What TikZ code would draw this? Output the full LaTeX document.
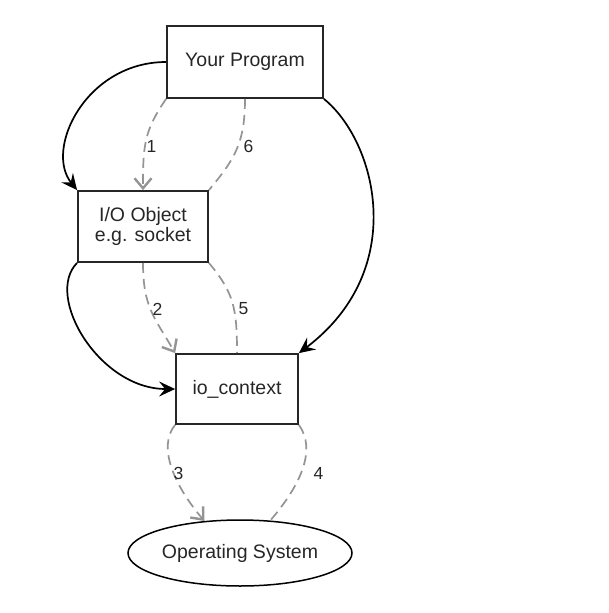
\documentclass[tikz,border=0pt]{standalone}
\usepackage{fontspec}
\setmainfont{Liberation Sans}
\usetikzlibrary{arrows.meta,shapes.geometric}
\begin{document}
\begin{tikzpicture}[x=1pt,y=-1pt,
  box/.style={draw=black!85,line width=1.8pt,rectangle,inner sep=0pt,font=\fontsize{19.5}{19.5}\selectfont,align=center,text=black!85},
  ell/.style={draw=black,line width=1.5pt,ellipse,inner sep=0pt,font=\fontsize{19.5}{19.5}\selectfont,text=black!85},
  solidcon/.style={draw=black,line width=1.7pt,-{Stealth[length=16pt,width=15pt,inset=6pt]}},
  dashcon/.style={draw=black!42,line width=1.7pt,dash pattern=on 10pt off 6pt},
  dasharrow/.style={dashcon,-{Straight Barb[length=10pt,width=17pt,line width=2.4pt]}},
  lab/.style={font=\fontsize{17.5}{18}\selectfont,inner sep=0pt,text=black!85}]
\useasboundingbox (0,0) rectangle (608,613);
\node[box,minimum width=156pt,minimum height=72pt] (prog) at (245,62) {Your Program};
\node[box,minimum width=130pt,minimum height=71pt] (io) at (143,226.5) {I/O Object\\e.g. socket};
\node[box,minimum width=122pt,minimum height=70pt] (ioc) at (237,389) {io\_context};
\node[ell,minimum width=224pt,minimum height=66pt] (os) at (240,553) {Operating System};
% solid connectors
\draw[solidcon] (prog.west) .. controls +(-80,0) and +(-33,-41) .. (io.north west);
\draw[solidcon] (prog.south east) .. controls +(52,42) and +(111,-84) .. (ioc.north east);
\draw[solidcon] (io.south west) .. controls +(-33,33) and +(-76,0) .. (ioc.west);
% dashed connectors
\draw[dasharrow] (prog.south west) .. controls +(-22,32) and +(0,-45) .. (io.north);
\draw[dashcon] (prog.south) .. controls +(0,45) and +(25,-30) .. (io.north east);
\draw[dasharrow] (io.south) .. controls +(0,45) and +(-20,-35) .. (ioc.north west);
\draw[dashcon] (io.south east) .. controls +(25,30) and +(0,-45) .. (ioc.north);
\draw[dasharrow] (ioc.south west) .. controls +(-18,22) and +(-30,-35) .. (os.138);
\draw[dashcon] (ioc.south east) .. controls +(18,25) and +(30,-35) .. (os.47);
% labels
\node[lab] (l1) at (151.5,146) {1};
\node[lab] (l6) at (248.5,146) {6};
\node[lab] (l2) at (157.5,309) {2};
\node[lab] (l5) at (243.5,309) {5};
\node[lab] (l3) at (178.5,473) {3};
\node[lab] (l4) at (318.5,473) {4};
\end{tikzpicture}
\end{document}
